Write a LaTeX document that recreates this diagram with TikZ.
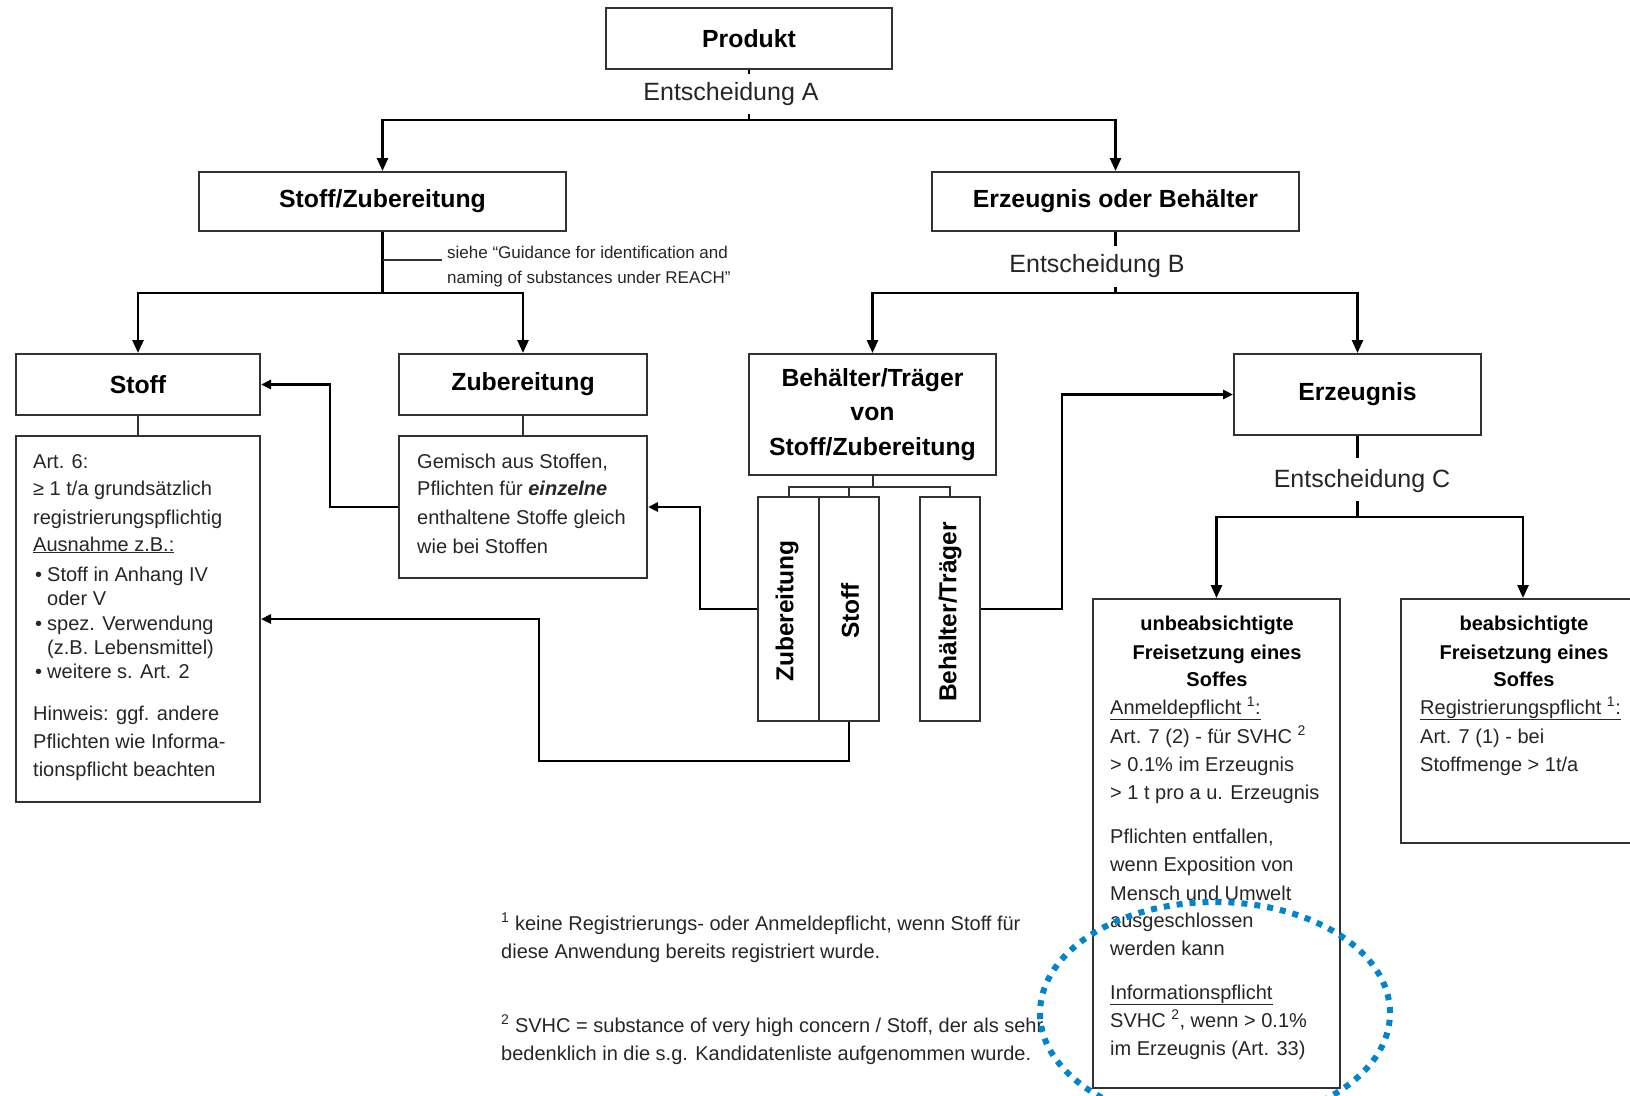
\documentclass[tikz,border=0pt]{standalone}
\usepackage{fontspec}
\setmainfont{Liberation Sans}
\usetikzlibrary{arrows.meta}
\definecolor{boxline}{RGB}{50,50,50}
\definecolor{txt}{RGB}{38,38,38}
\definecolor{dotblue}{RGB}{0,132,204}
\begin{document}
\begin{tikzpicture}[x=1pt,y=-1pt,
  box/.style={draw=boxline,line width=2pt,fill=white,inner sep=0pt},
  ttl/.style={font=\fontsize{24.8}{34.5}\selectfont\bfseries,align=center,text=black},
  vlbl/.style={font=\fontsize{24.5}{30}\selectfont\bfseries,rotate=90,inner sep=0pt,text=black},
  conn/.style={draw=black,line width=2.6pt},
  link/.style={draw=boxline,line width=2pt},
  arr/.style={-{Triangle[length=13pt,width=11pt]}},
  sarr/.style={-{Triangle[length=10pt,width=9pt]}},
  body/.style={font=\fontsize{20}{28}\selectfont,text=txt,anchor=base west,inner sep=0pt},
  bhead/.style={font=\fontsize{20}{28}\selectfont\bfseries,text=black,anchor=base,inner sep=0pt},
  dec/.style={font=\fontsize{25}{30}\selectfont,text=txt,anchor=base,inner sep=0pt},
  guide/.style={font=\fontsize{17}{25}\selectfont,text=txt,anchor=base west,inner sep=0pt},
]
\fill[white] (0,0) rectangle (1630,1095);
\useasboundingbox (0,0) rectangle (1630,1095);

% ---- boxes ----
\node[box,ttl,minimum width=286pt,minimum height=61pt] (prod) at (749,38.5) {Produkt};
\node[box,ttl,minimum width=367pt,minimum height=59pt] (sz) at (382.5,201.5) {Stoff/Zubereitung};
\node[box,ttl,minimum width=367pt,minimum height=59pt] (eob) at (1115.5,201.5) {Erzeugnis oder Behälter};
\node[box,ttl,minimum width=244pt,minimum height=61pt] (stoff) at (138,384.5) {Stoff};
\node[box,ttl,minimum width=248pt,minimum height=61pt] (zub) at (523,384.5) {Zubereitung};
\node[box,ttl,minimum width=247pt,minimum height=121pt] (bt) at (872.5,414.5) {Behälter/Träger\\von\\Stoff/Zubereitung};
\node[box,ttl,minimum width=247pt,minimum height=81pt] (erz) at (1357.5,394.5) {Erzeugnis};
\node[box,minimum width=244pt,minimum height=366pt] (stoffd) at (138,619) {};
\node[box,minimum width=248pt,minimum height=142pt] (zubd) at (523,507) {};
\node[box,minimum width=61pt,minimum height=224pt] (vz) at (788.5,609) {};
\node[box,minimum width=60pt,minimum height=224pt] (vs) at (849,609) {};
\node[box,minimum width=60pt,minimum height=224pt] (vbt) at (950,609) {};
\node[box,minimum width=247pt,minimum height=489pt] (unb) at (1216.5,843.5) {};
\node[box,minimum width=244pt,minimum height=244pt] (bea) at (1523,721) {};

% rotated labels in the narrow boxes
\node[vlbl] (vzl) at (787,611) {Zubereitung};
\node[vlbl] (vsl) at (850,611) {Stoff};
\node[vlbl] (vbtl) at (950,612) {Behälter/Träger};

% ---- decision labels ----
\node[dec] (entA) at (731,100) {Entscheidung A};
\node[dec] (entB) at (1097,272) {Entscheidung B};
\node[dec] (entC) at (1362,487) {Entscheidung C};

% ---- decision A ----
\coordinate (jA) at (749,120);
\draw[conn] (prod.south) -- ++(0,4);
\draw[conn] (jA) -- ++(0,-6);
\draw[conn,arr] (jA) -| (sz.north);
\draw[conn,arr] (jA) -| (eob.north);

% ---- Stoff/Zubereitung split ----
\coordinate (jS) at (382.5,293);
\coordinate (gtick) at (442,260);
\draw[conn] (sz.south) -- (jS);
\draw[conn,arr] (jS) -| (stoff.north);
\draw[conn,arr] (jS) -| (zub.north);
\draw[link,line width=1.5pt] (sz.south |- gtick) -- (gtick);
\node[guide] (g1) at (447,258) {siehe “Guidance for identification and};
\node[guide] (g2) at (447,283) {naming of substances under REACH”};

% ---- decision B ----
\coordinate (jB) at (1115.5,293);
\draw[conn] (eob.south) -- ++(0,14);
\draw[conn] (jB) -- ++(0,-6);
\draw[conn,arr] (jB) -| (bt.north);
\draw[conn,arr] (jB) -| (erz.north);

% ---- decision C ----
\coordinate (jC) at (1357.5,517);
\draw[conn] (erz.south) -- ++(0,22);
\draw[conn] (jC) -- ++(0,-16);
\draw[conn,arr] (jC) -| (unb.north);
\draw[conn,arr] (jC) -| (bea.north);

% ---- box to detail box ----
\draw[link] (stoff.south) -- (stoffd.north);
\draw[link] (zub.south) -- (zubd.north);

% ---- container split into three parts ----
\coordinate (jT) at (872.5,487);
\draw[link] (bt.south) -- (jT);
\draw[link] (vz.north) -- (vz.north |- jT) -- (vbt.north |- jT) -- (vbt.north);
\draw[link] (vs.north) -- (vs.north |- jT);

% ---- cross references ----
\draw[conn,sarr] (vz.west) -- ++(-57,0) |- (zubd.east);
\draw[conn,sarr] (zubd.west) -- ++(-68,0) |- (stoff.east);
\coordinate (lowc) at (539,761);
\draw[conn,sarr] (vs.south) |- (lowc) |- (stoffd.east);
\draw[conn,sarr] (vbt.east) -- ++(81,0) |- (erz.west);

% ---- Stoff details ----
\node[body] (s1) at (33,468) {Art. 6:};
\node[body] (s2) at (33,495) {≥ 1 t/a grundsätzlich};
\node[body] (s3) at (33,524) {registrierungspflichtig};
\node[body] (s4) at (33,551) {\underline{Ausnahme z.B.:}};
\node[body] (b1) at (35,581) {•};
\node[body] (s5) at (47,581) {Stoff in Anhang IV};
\node[body] (s6) at (47,605) {oder V};
\node[body] (b2) at (35,630) {•};
\node[body] (s7) at (47,630) {spez. Verwendung};
\node[body] (s8) at (47,654) {(z.B. Lebensmittel)};
\node[body] (b3) at (35,678) {•};
\node[body] (s9) at (47,678) {weitere s. Art. 2};
\node[body] (s10) at (33,720) {Hinweis: ggf. andere};
\node[body] (s11) at (33,748) {Pflichten wie Informa-};
\node[body] (s12) at (33,776) {tionspflicht beachten};

% ---- Zubereitung details ----
\node[body] (z1) at (417,468) {Gemisch aus Stoffen,};
\node[body] (z2) at (417,495) {Pflichten für \textbf{\textit{einzelne}}};
\node[body] (z3) at (417,524) {enthaltene Stoffe gleich};
\node[body] (z4) at (417,553) {wie bei Stoffen};

% ---- unintended release ----
\node[bhead] (u1) at (1217,630) {unbeabsichtigte};
\node[bhead] (u2) at (1217,659) {Freisetzung eines};
\node[bhead] (u3) at (1217,686) {Soffes};
\node[body] (u4) at (1110,714) {\underline{Anmeldepflicht \textsuperscript{1}:}};
\node[body] (u5) at (1110,743) {Art. 7 (2) - für SVHC \textsuperscript{2}};
\node[body] (u6) at (1110,771) {> 0.1\% im Erzeugnis};
\node[body] (u7) at (1110,799) {> 1 t pro a u. Erzeugnis};
\node[body] (u8) at (1110,843) {Pflichten entfallen,};
\node[body] (u9) at (1110,871) {wenn Exposition von};
\node[body] (u10) at (1110,900) {Mensch und Umwelt};
\node[body] (u11) at (1110,927) {ausgeschlossen};
\node[body] (u12) at (1110,955) {werden kann};
\node[body] (u13) at (1110,999) {\underline{Informationspflicht}};
\node[body] (u14) at (1110,1027) {SVHC \textsuperscript{2}, wenn > 0.1\%};
\node[body] (u15) at (1110,1055) {im Erzeugnis (Art. 33)};

% ---- intended release ----
\node[bhead] (i1) at (1524,630) {beabsichtigte};
\node[bhead] (i2) at (1524,659) {Freisetzung eines};
\node[bhead] (i3) at (1524,686) {Soffes};
\node[body] (i4) at (1420,714) {\underline{Registrierungspflicht \textsuperscript{1}:}};
\node[body] (i5) at (1420,743) {Art. 7 (1) - bei};
\node[body] (i6) at (1420,771) {Stoffmenge > 1t/a};

% ---- footnotes ----
\node[body] (f1) at (501,930) {\textsuperscript{1} keine Registrierungs- oder Anmeldepflicht, wenn Stoff für};
\node[body] (f2) at (501,958) {diese Anwendung bereits registriert wurde.};
\node[body] (f3) at (501,1032) {\textsuperscript{2} SVHC = substance of very high concern / Stoff, der als sehr};
\node[body] (f4) at (501,1060) {bedenklich in die s.g. Kandidatenliste aufgenommen wurde.};

% ---- highlight ring ----
\draw[dotblue,line width=6pt,dash pattern=on 6pt off 7pt] (1215,1013) ellipse [x radius=175pt,y radius=111pt];
\end{tikzpicture}
\end{document}
